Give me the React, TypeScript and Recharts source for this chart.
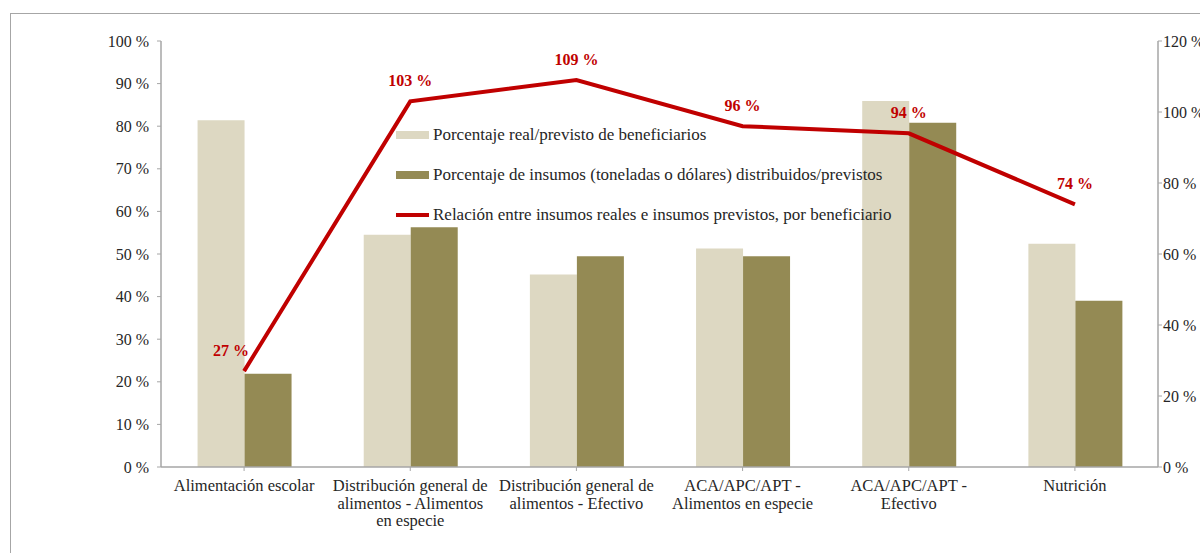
import { Bar, ComposedChart, LabelList, Line, XAxis, YAxis } from "recharts"

const LIGHT = "#DDD8C2"
const OLIVE = "#948A54"
const RED = "#C00000"
const AXIS = "#A6A6A6"
const INK = "#262626"
const FONT = "'Liberation Serif', 'DejaVu Serif', serif"

// category names, "\n" marks where the label wraps
const CATEGORIES = [
  "Alimentación escolar",
  "Distribución general de\nalimentos - Alimentos\nen especie",
  "Distribución general de\nalimentos - Efectivo",
  "ACA/APC/APT -\nAlimentos en especie",
  "ACA/APC/APT -\nEfectivo",
  "Nutrición",
]

const BENEFICIARIOS = [81.4, 54.5, 45.2, 51.3, 85.9, 52.4]
const INSUMOS = [21.9, 56.3, 49.5, 49.5, 80.8, 39.0]
const RELACION = [27, 103, 109, 96, 94, 74]

const LEFT_TICKS = [0, 10, 20, 30, 40, 50, 60, 70, 80, 90, 100]
const RIGHT_TICKS = [0, 20, 40, 60, 80, 100, 120]

const LEGEND_ITEMS = [
  { label: "Porcentaje real/previsto de beneficiarios", color: LIGHT, kind: "bar" },
  { label: "Porcentaje de insumos (toneladas o dólares) distribuidos/previstos", color: OLIVE, kind: "bar" },
  { label: "Relación entre insumos reales e insumos previstos, por beneficiario", color: RED, kind: "line" },
]

const data = CATEGORIES.map((name, i) => ({
  name,
  beneficiarios: BENEFICIARIOS[i],
  insumos: INSUMOS[i],
  relacion: RELACION[i],
}))

const pct = (v: number) => `${v} %`

function CategoryTick(props: any) {
  const lines = String(props.payload.value).split("\n")
  return (
    <text x={props.x} y={props.y} textAnchor="middle" fontSize={16.5} fontFamily={FONT} fill={INK}>
      {lines.map((l, i) => (
        <tspan key={i} x={props.x} dy={i === 0 ? 18 : 17.5}>
          {l}
        </tspan>
      ))}
    </text>
  )
}

function RatioLabel(props: any) {
  const { x, y, value, index } = props
  const dx = index === 0 ? -13 : 0
  return (
    <text
      x={x + dx}
      y={y - 15}
      textAnchor="middle"
      fontSize={16}
      fontWeight="bold"
      fontFamily={FONT}
      fill={RED}
    >
      {pct(value)}
    </text>
  )
}

function LegendBox() {
  return (
    <div style={{ position: "absolute", left: 396, top: 115, fontFamily: FONT, fontSize: 17, color: INK }}>
      {LEGEND_ITEMS.map((it) => (
        <div key={it.label} style={{ display: "flex", alignItems: "center", height: 40, whiteSpace: "nowrap" }}>
          <span
            style={{
              display: "inline-block",
              width: 33,
              height: it.kind === "line" ? 4 : 8,
              background: it.color,
              marginRight: 4,
            }}
          />
          <span>{it.label}</span>
        </div>
      ))}
    </div>
  )
}

export default function App() {
  return (
    <div style={{ position: "absolute", left: 0, top: 0, width: 1200, height: 553, overflow: "hidden", background: "#fff" }}>
      <div
        style={{
          position: "absolute",
          left: 10,
          top: 13,
          width: 1190,
          height: 540,
          borderTop: `1.5px solid ${AXIS}`,
          borderLeft: `1.5px solid ${AXIS}`,
        }}
      />
      <div style={{ position: "absolute", left: 0, top: 0 }}>
        <ComposedChart
          width={1200}
          height={553}
          data={data}
          margin={{ top: 41, right: 0, bottom: 0, left: 101 }}
          barCategoryGap="22%"
          barGap={0}
        >
          <XAxis
            dataKey="name"
            interval={0}
            height={86}
            tick={<CategoryTick />}
            tickSize={4}
            tickLine={{ stroke: AXIS }}
            axisLine={{ stroke: AXIS, strokeWidth: 1.5 }}
          />
          <YAxis
            yAxisId="left"
            width={60}
            domain={[0, 100]}
            ticks={LEFT_TICKS}
            interval={0}
            tickFormatter={pct}
            tickSize={4}
            tickMargin={8}
            tickLine={{ stroke: AXIS }}
            axisLine={{ stroke: AXIS, strokeWidth: 1.5 }}
            tick={{ fontSize: 16, fontFamily: FONT, fill: INK }}
          />
          <YAxis
            yAxisId="right"
            orientation="right"
            width={42}
            domain={[0, 120]}
            ticks={RIGHT_TICKS}
            interval={0}
            tickFormatter={pct}
            tickSize={4}
            tickMargin={1}
            tickLine={{ stroke: AXIS }}
            axisLine={{ stroke: AXIS, strokeWidth: 1.5 }}
            tick={{ fontSize: 16, fontFamily: FONT, fill: INK, textAnchor: "start" }}
          />
          <Bar yAxisId="left" dataKey="beneficiarios" fill={LIGHT} isAnimationActive={false} />
          <Bar yAxisId="left" dataKey="insumos" fill={OLIVE} isAnimationActive={false} />
          <Line
            yAxisId="right"
            dataKey="relacion"
            stroke={RED}
            strokeWidth={4}
            dot={false}
            activeDot={false}
            isAnimationActive={false}
          >
            <LabelList dataKey="relacion" content={<RatioLabel />} />
          </Line>
        </ComposedChart>
      </div>
      <LegendBox />
    </div>
  )
}
